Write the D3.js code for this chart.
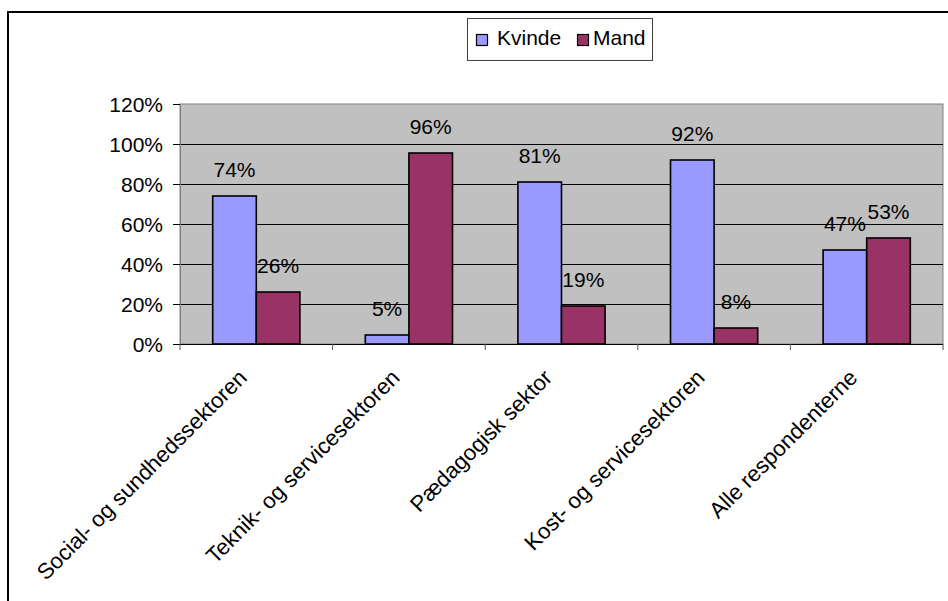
<!DOCTYPE html>
<html>
<head>
<meta charset="utf-8">
<script src="https://cdn.jsdelivr.net/npm/d3@7/dist/d3.min.js"></script>
<style>
  html, body { margin: 0; padding: 0; background: #fff; }
  svg { display: block; font-family: "Liberation Sans", Arial, sans-serif; }
</style>
</head>
<body>
<svg id="chart" width="948" height="601"></svg>
<script>
const categories = [
  "Social- og sundhedssektoren",
  "Teknik- og servicesektoren",
  "Pædagogisk sektor",
  "Kost- og servicesektoren",
  "Alle respondenterne"
];
const seriesNames = ["Kvinde", "Mand"];
const kvindeValues = [74, 4.5, 81, 92, 47];
const mandValues = [26, 95.5, 19, 8, 53];
const yTicks = [0, 20, 40, 60, 80, 100, 120];
const colors = ["#9999FF", "#993366"];

const svg = d3.select("#chart");
const plot = { left: 180, right: 943, top: 104, bottom: 344 };

// outer border
svg.append("rect").attr("x", 8).attr("y", 12).attr("width", 980).attr("height", 640)
  .attr("fill", "none").attr("stroke", "#000").attr("stroke-width", 2);

const y = d3.scaleLinear().domain([0, 120]).range([plot.bottom, plot.top]);
const x = d3.scaleBand().domain(categories).range([plot.left, plot.right]).paddingInner(0).paddingOuter(0);
const xs = d3.scaleBand().domain(seriesNames).range([0, x.bandwidth()]).paddingInner(0).paddingOuter(0.75);

// plot area
svg.append("rect").attr("x", plot.left).attr("y", plot.top)
  .attr("width", plot.right - plot.left).attr("height", plot.bottom - plot.top)
  .attr("fill", "#C0C0C0").attr("stroke", "#808080").attr("stroke-width", 1);

// gridlines
svg.append("g").selectAll("line").data(yTicks.filter(t => t > 0 && t < 120)).join("line")
  .attr("x1", plot.left).attr("x2", plot.right)
  .attr("y1", d => Math.round(y(d)) + 0.5).attr("y2", d => Math.round(y(d)) + 0.5)
  .attr("stroke", "#000").attr("stroke-width", 1);

// y axis
const yAxis = d3.axisLeft(y).tickValues(yTicks).tickFormat(d => d + "%").tickSize(7).tickSizeOuter(0);
const gy = svg.append("g").attr("transform", `translate(${plot.left},0)`).call(yAxis);
gy.select(".domain").attr("stroke", "#808080");
gy.selectAll(".tick line").attr("stroke", "#000");
gy.selectAll(".tick text").attr("font-size", 21).attr("fill", "#000")
  .attr("font-family", "Liberation Sans, Arial, sans-serif").attr("x", -17).attr("dy", "0.35em");

// x axis baseline and category ticks
svg.append("line").attr("x1", plot.left).attr("x2", plot.right)
  .attr("y1", plot.bottom + 0.5).attr("y2", plot.bottom + 0.5).attr("stroke", "#000");
const boundaries = categories.map(c => x(c)).concat([plot.right]);
svg.append("g").selectAll("line").data(boundaries).join("line")
  .attr("x1", d => d).attr("x2", d => d)
  .attr("y1", plot.bottom).attr("y2", plot.bottom + 6)
  .attr("stroke", "#555").attr("stroke-width", 1);

// bars
const data = categories.map((c, i) => ({ cat: c, vals: [kvindeValues[i], mandValues[i]] }));
const groups = svg.append("g").selectAll("g").data(data).join("g")
  .attr("transform", d => `translate(${x(d.cat)},0)`);
groups.selectAll("rect").data(d => d.vals.map((v, j) => ({ s: seriesNames[j], v, j }))).join("rect")
  .attr("x", d => xs(d.s)).attr("width", xs.bandwidth())
  .attr("y", d => y(d.v)).attr("height", d => y(0) - y(d.v))
  .attr("fill", d => colors[d.j]).attr("stroke", "#000").attr("stroke-width", 1.6);
groups.selectAll("text").data(d => d.vals.map((v, j) => ({ s: seriesNames[j], v, j }))).join("text")
  .attr("x", d => xs(d.s) + xs.bandwidth() / 2)
  .attr("y", d => y(d.v) - 19)
  .attr("text-anchor", "middle").attr("font-size", 21).attr("fill", "#000")
  .text(d => Math.round(d.v) + "%");

// x labels
svg.append("g").selectAll("text").data(categories).join("text")
  .attr("transform", d => `translate(${x(d) + x.bandwidth() / 2 - 8},${379}) rotate(-45)`)
  .attr("text-anchor", "end").attr("font-size", 22.2).attr("fill", "#000")
  .text(d => d);

// legend
const lg = svg.append("g");
lg.append("rect").attr("x", 467.5).attr("y", 18.5).attr("width", 185).attr("height", 42)
  .attr("fill", "#fff").attr("stroke", "#404040").attr("stroke-width", 1);
const legendX = [476, 577];
const legendTextX = [497, 593];
seriesNames.forEach((s, i) => {
  lg.append("rect").attr("x", legendX[i] + 0.5).attr("y", 34.5).attr("width", 11).attr("height", 11)
    .attr("fill", colors[i]).attr("stroke", "#000").attr("stroke-width", 1.2);
  lg.append("text").attr("x", legendTextX[i]).attr("y", 45).attr("font-size", 21).attr("fill", "#000").text(s);
});
</script>
</body>
</html>
